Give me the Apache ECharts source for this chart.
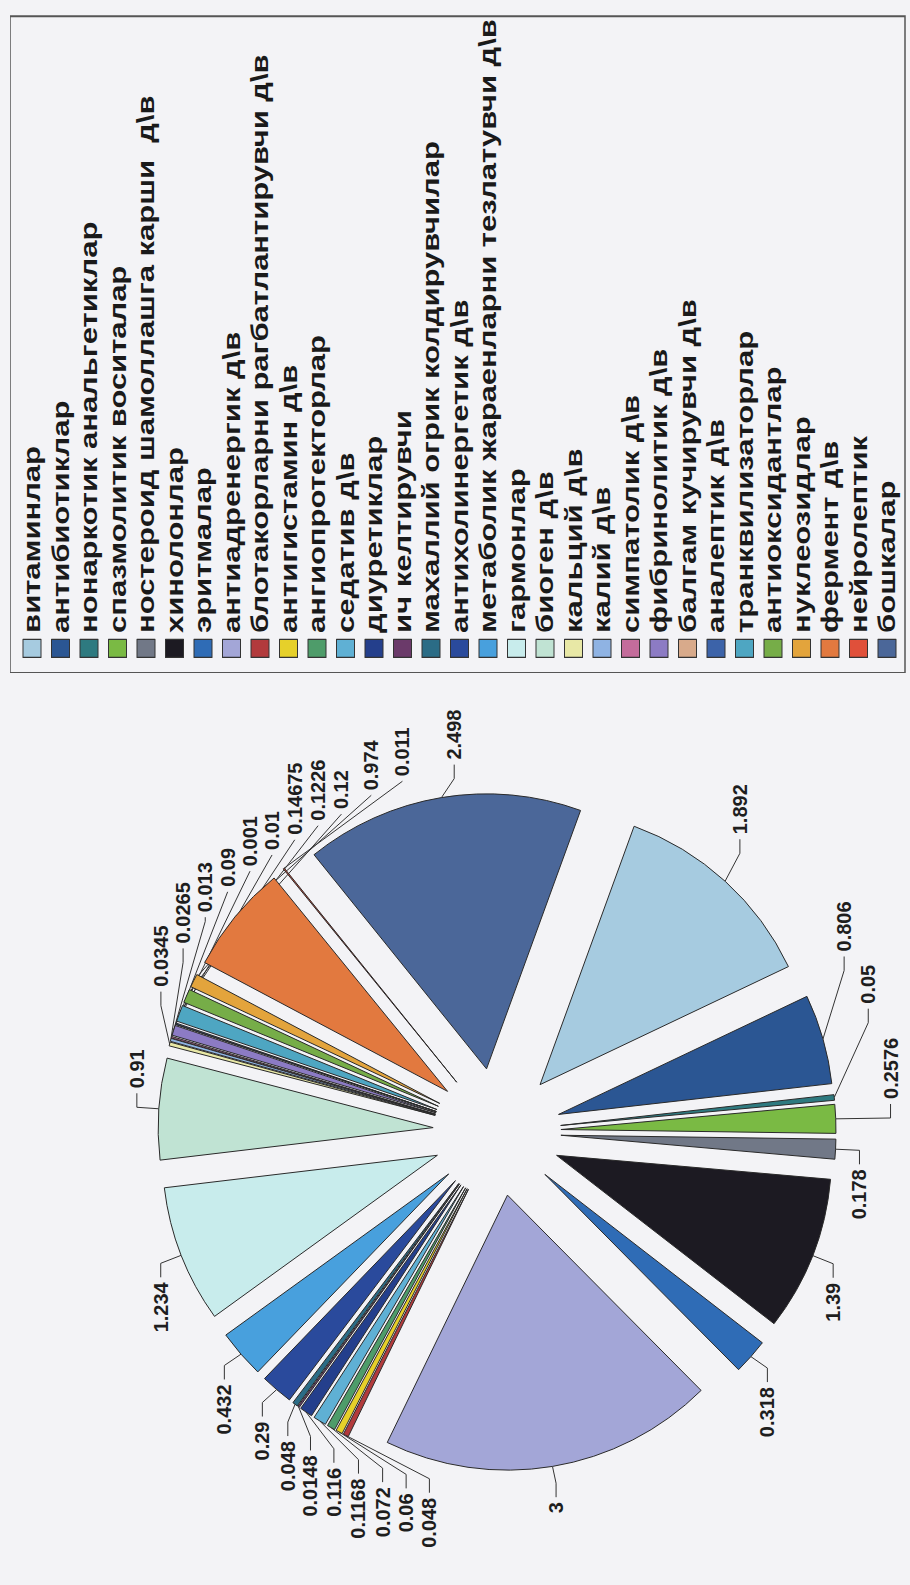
<!DOCTYPE html>
<html><head><meta charset="utf-8">
<script src="https://cdn.jsdelivr.net/npm/echarts@6/dist/echarts.min.js"></script>
<style>
html,body{margin:0;padding:0;background:#f3f3f6;width:910px;height:1585px;overflow:hidden;}
#rot{position:absolute;left:0;top:0;width:1585px;height:910px;transform-origin:0 0;transform:translate(0,1585px) rotate(-90deg);}
#pie{position:absolute;left:0;top:0;width:1585px;height:910px;}
#leg{position:absolute;left:912px;top:10px;width:520px;height:920px;transform-origin:0 0;transform:scaleX(1.29);}
</style></head><body>
<div id="rot"><div id="pie"></div><div id="leg"></div></div>
<script>
const categories = [
  "витаминлар","антибиотиклар","нонаркотик анальгетиклар","спазмолитик воситалар",
  "ностероид шамоллашга карши  д\\в","хинолонлар","эритмалар","антиадренергик д\\в",
  "блотакорларни рагбатлантирувчи д\\в","антигистамин д\\в","ангиопротекторлар","седатив д\\в",
  "диуретиклар","ич келтирувчи","махаллий огрик колдирувчилар","антихолинергетик д\\в",
  "метаболик жараенларни тезлатувчи д\\в","гармонлар","биоген д\\в","кальций д\\в",
  "калий д\\в","симпатолик д\\в","фибринолитик д\\в","балгам кучирувчи д\\в",
  "аналептик д\\в","транквилизаторлар","антиоксидантлар","нуклеозидлар",
  "фермент д\\в","нейролептик","бошкалар"
];
const values = [
  1.892, 0.806, 0.05, 0.2576, 0.178, 1.39, 0.318, 3, 0.048, 0.06, 0.072, 0.1168,
  0.116, 0.0148, 0.048, 0.29, 0.432, 1.234, 0.91, 0.0345, 0.0265, 0.013, 0.09,
  0.001, 0.01, 0.14675, 0.1226, 0.12, 0.974, 0.011, 2.498
];
const colors = [
  "#a6cbe0","#2b5693","#2e7a80","#7aba44","#717887","#1c1a22","#2f6cb6","#a3a6d7",
  "#b23a3c","#e6d02a","#4e9c6a","#5fb0d4","#243f8c","#6b3a6a","#2b6c86","#2a4a9c",
  "#48a0dd","#c8ecec","#c0e3d3","#e8e8a6","#8fb3e3","#c46c9b","#8c7bc4","#d8aa8b",
  "#3c63a9","#4ea6c2","#76ad48","#e3a43c","#e2793f","#e0503a","#4b6799"
];

const FONT = "'Liberation Sans', Arial, sans-serif";
const pieData = categories.map((n, i) => ({
  name: n, value: values[i], selected: true,
  itemStyle: { color: colors[i] }
}));

const pieChart = echarts.init(document.getElementById('pie'), null, { renderer: 'svg' });
pieChart.setOption({
  animation: false,
  backgroundColor: 'transparent',
  series: [{
    type: 'pie',
    center: [453, 497],
    radius: 275,
    startAngle: -20,
    clockwise: true,
    selectedMode: 'multiple',
    selectedOffset: 64,
    avoidLabelOverlap: true,
    minShowLabelAngle: 0,
    data: pieData,
    itemStyle: { borderColor: '#2a2a2a', borderWidth: 1 },
    select: { itemStyle: { borderColor: '#2a2a2a', borderWidth: 1 } },
    emphasis: { disabled: true },
    label: {
      show: true, position: 'outside', formatter: '{c}',
      fontFamily: FONT, fontSize: 20, fontWeight: 'bold', color: '#1e1e1e'
    },
    labelLine: { show: true, length: 22, length2: 14, lineStyle: { color: '#333', width: 1 } }
  }]
});

const legChart = echarts.init(document.getElementById('leg'), null, { renderer: 'svg' });
legChart.setOption({
  animation: false,
  backgroundColor: 'transparent',
  legend: {
    orient: 'vertical', left: 0, top: 0,
    padding: [10, 2, 6, 11.6],
    itemWidth: 14, itemHeight: 18, itemGap: 4.5,
    icon: 'rect',
    selectedMode: false,
    borderColor: '#555', borderWidth: 1.5,
    itemStyle: { borderColor: '#333', borderWidth: 1 },
    textStyle: { fontFamily: FONT, fontSize: 24, lineHeight: 24, fontWeight: 'bold', color: '#1a1a1a' },
    data: categories
  },
  series: [{
    type: 'pie', center: [-3000, -3000], radius: 5, silent: true,
    label: { show: false }, labelLine: { show: false },
    data: categories.map((n, i) => ({ name: n, value: values[i], itemStyle: { color: colors[i] } }))
  }]
});
</script>
</body></html>
